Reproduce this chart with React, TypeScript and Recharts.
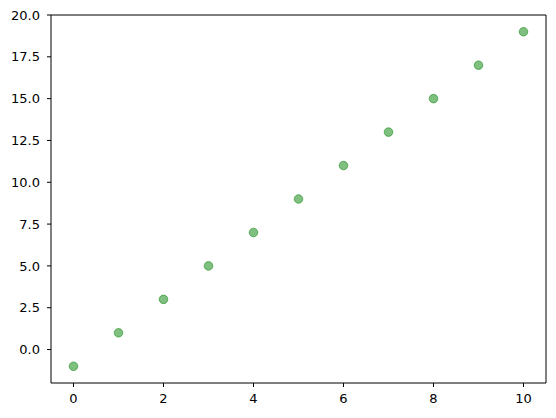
import React from 'react';
import { ScatterChart, Scatter, XAxis, YAxis } from 'recharts';

const xValues = [0, 1, 2, 3, 4, 5, 6, 7, 8, 9, 10];
const yValues = [-1, 1, 3, 5, 7, 9, 11, 13, 15, 17, 19];
const xTicks = [0, 2, 4, 6, 8, 10];
const yTicks = [0, 2.5, 5, 7.5, 10, 12.5, 15, 17.5, 20];

const data = xValues.map((x, i) => ({ x, y: yValues[i] }));

const font = { fontFamily: 'DejaVu Sans', fontSize: 13, fill: '#000' };

const Dot = (props: any) => {
  const { cx, cy } = props;
  return <circle cx={cx} cy={cy} r={4.3} fill="#008000" fillOpacity={0.5} stroke="#008000" strokeOpacity={0.5} strokeWidth={1} />;
};

export default function App() {
  return (
    <div style={{ position: 'fixed', left: 0, top: 0, width: 556, height: 418, background: '#fff' }}>
      <ScatterChart width={556} height={418} margin={{ top: 14, right: 9, bottom: 0, left: 0 }}>
        <XAxis
          dataKey="x"
          type="number"
          domain={[-0.5, 10.5]}
          ticks={xTicks}
          height={35}
          tick={font}
          tickSize={4}
          tickMargin={7}
          axisLine={{ stroke: '#000' }}
          tickLine={{ stroke: '#000' }}
          allowDataOverflow
        />
        <XAxis
          xAxisId="top"
          orientation="top"
          type="number"
          domain={[-0.5, 10.5]}
          height={1}
          tick={false}
          tickLine={false}
          axisLine={{ stroke: '#000' }}
        />
        <YAxis
          dataKey="y"
          type="number"
          domain={[-2, 20]}
          ticks={yTicks}
          width={51}
          tick={font}
          tickSize={4}
          tickMargin={7}
          tickFormatter={(v: number) => v.toFixed(1)}
          axisLine={{ stroke: '#000' }}
          tickLine={{ stroke: '#000' }}
          allowDataOverflow
        />
        <YAxis
          yAxisId="right"
          orientation="right"
          type="number"
          domain={[-2, 20]}
          width={1}
          tick={false}
          tickLine={false}
          axisLine={{ stroke: '#000' }}
        />
        <Scatter data={data} shape={<Dot />} isAnimationActive={false} />
      </ScatterChart>
    </div>
  );
}
